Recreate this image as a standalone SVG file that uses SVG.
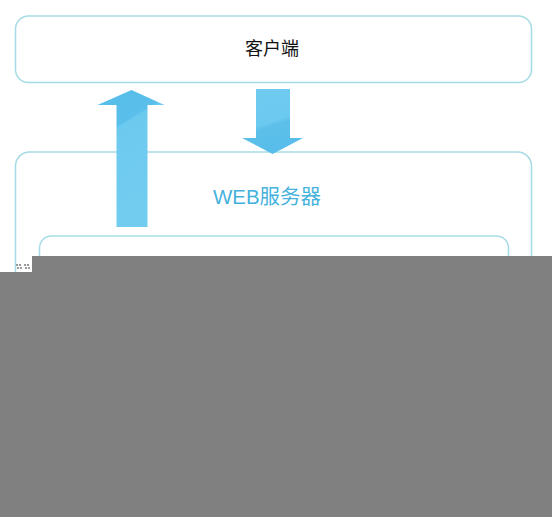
<svg xmlns="http://www.w3.org/2000/svg" width="552" height="517" viewBox="0 0 552 517">
  <style>
    .box { fill: #ffffff; stroke: #a6dbe5; stroke-width: 1.5; }
    .lbl { font-family: "Liberation Sans", "Noto Sans CJK SC", sans-serif; text-anchor: middle; }
  </style>
  <defs>
    <linearGradient id="upg" x1="0" y1="0" x2="0.3" y2="1">
      <stop offset="0" stop-color="#55bde9"/>
      <stop offset="0.32" stop-color="#5abfea"/>
      <stop offset="0.34" stop-color="#6dcaef"/>
      <stop offset="1" stop-color="#72ccf0"/>
    </linearGradient>
    <linearGradient id="downg" x1="0" y1="0" x2="0.3" y2="1">
      <stop offset="0" stop-color="#70cbf0"/>
      <stop offset="0.6" stop-color="#6cc9ef"/>
      <stop offset="0.65" stop-color="#5dc0eb"/>
      <stop offset="1" stop-color="#58bdea"/>
    </linearGradient>
  </defs>
  <rect width="552" height="517" fill="#ffffff"/>

  <g id="client">
    <rect class="box" x="15.5" y="16" width="516" height="66.5" rx="13"/>
    <text class="lbl" x="272" y="55" font-size="18" fill="#111111">客户端</text>
  </g>

  <g id="web-server">
    <rect class="box" x="15.5" y="152" width="516" height="380" rx="14"/>
    <text class="lbl" x="267" y="204" font-size="20.5" fill="#45b2dc">WEB服务器</text>
  </g>

  <g id="inner">
    <rect class="box" x="39.5" y="236" width="469" height="120" rx="12"/>
  </g>

  <g id="connectors">
    <polygon points="131.5,90 164.5,105 147.5,105 147.5,227 116.5,227 116.5,105 97.5,105" fill="url(#upg)"/>
    <polygon points="256,89 290,89 290,138 303,138 272.5,154 242,138 256,138" fill="url(#downg)"/>
  </g>

  <g id="mask">
    <path d="M32,256 H552 V517 H0 V272 H32 Z" fill="#808080"/>
    <g fill="#9a9a9a">
      <rect x="16" y="264" width="2" height="2"/><rect x="19" y="264" width="2" height="2"/>
      <rect x="17" y="267" width="2" height="2"/><rect x="20" y="267" width="2" height="2"/>
      <rect x="24" y="264" width="2" height="2"/><rect x="27" y="264" width="2" height="2"/>
      <rect x="25" y="267" width="2" height="2"/><rect x="28" y="267" width="2" height="2"/>
    </g>
  </g>
</svg>
